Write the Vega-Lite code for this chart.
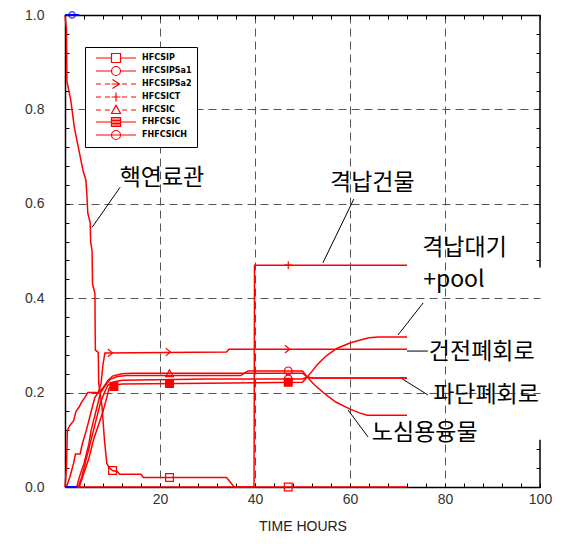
{
  "$schema": "https://vega.github.io/schema/vega-lite/v6.json",
  "width": 475,
  "height": 472,
  "autosize": {"type": "none"},
  "padding": {"left": 65, "top": 15, "right": 30, "bottom": 60},
  "background": "white",
  "config": {"view": {"stroke": null}},
  "datasets": {
    "lines": [
      {"series":"HFCSIP","x":0,"y":1.0},{"series":"HFCSIP","x":0.3,"y":0.97},{"series":"HFCSIP","x":0.4,"y":0.86},{"series":"HFCSIP","x":0.8,"y":0.84},{"series":"HFCSIP","x":1.2,"y":0.82},{"series":"HFCSIP","x":1.6,"y":0.79},{"series":"HFCSIP","x":2,"y":0.76},{"series":"HFCSIP","x":2.6,"y":0.73},{"series":"HFCSIP","x":3.2,"y":0.70},{"series":"HFCSIP","x":3.8,"y":0.67},{"series":"HFCSIP","x":4.4,"y":0.65},{"series":"HFCSIP","x":4.6,"y":0.62},{"series":"HFCSIP","x":4.8,"y":0.58},{"series":"HFCSIP","x":5.3,"y":0.56},{"series":"HFCSIP","x":5.4,"y":0.52},{"series":"HFCSIP","x":5.7,"y":0.50},{"series":"HFCSIP","x":5.8,"y":0.43},{"series":"HFCSIP","x":6.3,"y":0.41},{"series":"HFCSIP","x":6.35,"y":0.33},{"series":"HFCSIP","x":6.4,"y":0.29},{"series":"HFCSIP","x":7.0,"y":0.285},{"series":"HFCSIP","x":7.1,"y":0.22},{"series":"HFCSIP","x":7.8,"y":0.17},{"series":"HFCSIP","x":8.3,"y":0.10},{"series":"HFCSIP","x":8.8,"y":0.05},{"series":"HFCSIP","x":9.4,"y":0.04},{"series":"HFCSIP","x":10,"y":0.035},{"series":"HFCSIP","x":11,"y":0.033},{"series":"HFCSIP","x":11.5,"y":0.027},{"series":"HFCSIP","x":16,"y":0.027},{"series":"HFCSIP","x":16.5,"y":0.02},{"series":"HFCSIP","x":34,"y":0.02},{"series":"HFCSIP","x":35,"y":0.008},{"series":"HFCSIP","x":35.6,"y":0},{"series":"HFCSIP","x":72,"y":0},

      {"series":"HFCSIPSa2","x":0.3,"y":0},{"series":"HFCSIPSa2","x":1,"y":0.02},{"series":"HFCSIPSa2","x":1.8,"y":0.05},{"series":"HFCSIPSa2","x":2.2,"y":0.07},{"series":"HFCSIPSa2","x":3.2,"y":0.07},{"series":"HFCSIPSa2","x":3.6,"y":0.09},{"series":"HFCSIPSa2","x":4.5,"y":0.12},{"series":"HFCSIPSa2","x":5.5,"y":0.16},{"series":"HFCSIPSa2","x":6.3,"y":0.19},{"series":"HFCSIPSa2","x":7,"y":0.2},{"series":"HFCSIPSa2","x":7.6,"y":0.22},{"series":"HFCSIPSa2","x":8,"y":0.26},{"series":"HFCSIPSa2","x":8.4,"y":0.284},{"series":"HFCSIPSa2","x":34,"y":0.286},{"series":"HFCSIPSa2","x":34.5,"y":0.292},{"series":"HFCSIPSa2","x":72,"y":0.292},

      {"series":"HFCSIC","x":0,"y":0},{"series":"HFCSIC","x":0.3,"y":0.04},{"series":"HFCSIC","x":0.5,"y":0.12},{"series":"HFCSIC","x":1,"y":0.13},{"series":"HFCSIC","x":1.8,"y":0.14},{"series":"HFCSIC","x":2.3,"y":0.16},{"series":"HFCSIC","x":3,"y":0.17},{"series":"HFCSIC","x":3.5,"y":0.18},{"series":"HFCSIC","x":4.2,"y":0.19},{"series":"HFCSIC","x":4.8,"y":0.2},{"series":"HFCSIC","x":7,"y":0.2},{"series":"HFCSIC","x":8,"y":0.21},{"series":"HFCSIC","x":9,"y":0.225},{"series":"HFCSIC","x":10,"y":0.235},{"series":"HFCSIC","x":12,"y":0.24},{"series":"HFCSIC","x":14,"y":0.241},{"series":"HFCSIC","x":50,"y":0.241},{"series":"HFCSIC","x":51,"y":0.233},{"series":"HFCSIC","x":52,"y":0.231},{"series":"HFCSIC","x":72,"y":0.231},

      {"series":"HFCSIPSa1","x":0,"y":0},{"series":"HFCSIPSa1","x":2.5,"y":0},{"series":"HFCSIPSa1","x":3,"y":0.02},{"series":"HFCSIPSa1","x":4,"y":0.05},{"series":"HFCSIPSa1","x":5,"y":0.09},{"series":"HFCSIPSa1","x":5.5,"y":0.12},{"series":"HFCSIPSa1","x":6,"y":0.14},{"series":"HFCSIPSa1","x":6.5,"y":0.16},{"series":"HFCSIPSa1","x":7,"y":0.18},{"series":"HFCSIPSa1","x":7.5,"y":0.2},{"series":"HFCSIPSa1","x":8.5,"y":0.215},{"series":"HFCSIPSa1","x":9.5,"y":0.228},{"series":"HFCSIPSa1","x":11,"y":0.234},{"series":"HFCSIPSa1","x":13,"y":0.236},{"series":"HFCSIPSa1","x":37,"y":0.236},{"series":"HFCSIPSa1","x":38.5,"y":0.246},{"series":"HFCSIPSa1","x":50,"y":0.246},{"series":"HFCSIPSa1","x":51,"y":0.233},{"series":"HFCSIPSa1","x":52,"y":0.222},{"series":"HFCSIPSa1","x":53,"y":0.212},{"series":"HFCSIPSa1","x":55,"y":0.195},{"series":"HFCSIPSa1","x":57,"y":0.18},{"series":"HFCSIPSa1","x":60,"y":0.165},{"series":"HFCSIPSa1","x":62,"y":0.157},{"series":"HFCSIPSa1","x":63.6,"y":0.152},{"series":"HFCSIPSa1","x":72,"y":0.152},

      {"series":"FHFCSIC","x":0,"y":0},{"series":"FHFCSIC","x":3,"y":0},{"series":"FHFCSIC","x":4,"y":0.03},{"series":"FHFCSIC","x":5,"y":0.06},{"series":"FHFCSIC","x":6,"y":0.1},{"series":"FHFCSIC","x":7,"y":0.13},{"series":"FHFCSIC","x":8,"y":0.16},{"series":"FHFCSIC","x":8.8,"y":0.19},{"series":"FHFCSIC","x":9.3,"y":0.21},{"series":"FHFCSIC","x":10,"y":0.215},{"series":"FHFCSIC","x":12,"y":0.218},{"series":"FHFCSIC","x":30,"y":0.22},{"series":"FHFCSIC","x":50,"y":0.222},{"series":"FHFCSIC","x":51,"y":0.233},{"series":"FHFCSIC","x":52,"y":0.245},{"series":"FHFCSIC","x":53,"y":0.258},{"series":"FHFCSIC","x":55,"y":0.278},{"series":"FHFCSIC","x":57.3,"y":0.294},{"series":"FHFCSIC","x":60,"y":0.305},{"series":"FHFCSIC","x":62,"y":0.311},{"series":"FHFCSIC","x":64,"y":0.316},{"series":"FHFCSIC","x":66,"y":0.318},{"series":"FHFCSIC","x":72,"y":0.318},

      {"series":"FHFCSICH","x":0,"y":0},{"series":"FHFCSICH","x":2.8,"y":0},{"series":"FHFCSICH","x":3.5,"y":0.02},{"series":"FHFCSICH","x":4.5,"y":0.06},{"series":"FHFCSICH","x":5.5,"y":0.1},{"series":"FHFCSICH","x":6.5,"y":0.14},{"series":"FHFCSICH","x":7.5,"y":0.18},{"series":"FHFCSICH","x":8.3,"y":0.2},{"series":"FHFCSICH","x":9,"y":0.215},{"series":"FHFCSICH","x":10,"y":0.222},{"series":"FHFCSICH","x":12,"y":0.226},{"series":"FHFCSICH","x":30,"y":0.229},{"series":"FHFCSICH","x":50,"y":0.229},{"series":"FHFCSICH","x":51,"y":0.233},{"series":"FHFCSICH","x":52,"y":0.231},{"series":"FHFCSICH","x":72,"y":0.231},

      {"series":"HFCSICT","x":0,"y":0},{"series":"HFCSICT","x":39.8,"y":0},{"series":"HFCSICT","x":39.9,"y":0.47},{"series":"HFCSICT","x":72,"y":0.47}
    ],
    "markers": [
      {"series":"HFCSIP","x":10,"y":0.035},{"series":"HFCSIP","x":22,"y":0.02},{"series":"HFCSIP","x":47,"y":0},
      {"series":"HFCSIPSa2","x":9.5,"y":0.284},{"series":"HFCSIPSa2","x":21.7,"y":0.286},{"series":"HFCSIPSa2","x":46.8,"y":0.292},
      {"series":"HFCSIPSa1","x":47,"y":0.246},
      {"series":"HFCSIC","x":22,"y":0.241},
      {"series":"FHFCSIC","x":10.3,"y":0.213},{"series":"FHFCSIC","x":22,"y":0.219},{"series":"FHFCSIC","x":47,"y":0.222},
      {"series":"FHFCSICH","x":47,"y":0.229},
      {"series":"HFCSICT","x":47,"y":0.47}
    ],
    "blue": [
      {"part":"top","x":0,"y":1},{"part":"top","x":3,"y":1},
      {"part":"bottom","x":0,"y":0},{"part":"bottom","x":2.5,"y":0}
    ],
    "bluepts": [{"x":1.5,"y":1}],
    "frame": [
      {"part":"upper","y":0.465,"y2":1},
      {"part":"lower","y":0,"y2":0.1}
    ],
    "notes": [
      {"text":"핵연료관","x":11.5,"y":0.655},
      {"text":"격납건물","x":55.8,"y":0.644},
      {"text":"격납대기","x":75.2,"y":0.507},
      {"text":"+pool","x":75.4,"y":0.438},
      {"text":"건전폐회로","x":76.6,"y":0.286},
      {"text":"파단폐회로","x":77.5,"y":0.195},
      {"text":"노심용융물","x":64.6,"y":0.114}
    ],
    "leaders": [
      {"x":11.6,"y":0.635,"x2":5.7,"y2":0.55},
      {"x":60.8,"y":0.61,"x2":54.3,"y2":0.475},
      {"x":75.4,"y":0.39,"x2":70.1,"y2":0.322},
      {"x":72,"y":0.288,"x2":76.4,"y2":0.288},
      {"x":71,"y":0.229,"x2":76.4,"y2":0.195},
      {"x":59.6,"y":0.163,"x2":63.8,"y2":0.106}
    ]
  },
  "resolve": {"scale": {"shape": "independent", "fill": "independent"}, "axis": {"x": "independent", "y": "independent"}},
  "layer": [
    {
      "data": {"name": "lines"},
      "mark": {"type": "line", "color": "#ff0000", "strokeWidth": 1.5, "interpolate": "linear"},
      "encoding": {
        "x": {"field": "x", "type": "quantitative", "scale": {"domain": [0, 100], "nice": false},
          "axis": {"orient": "bottom", "values": [0,4,8,12,16,20,24,28,32,36,40,44,48,52,56,60,64,68,72,76,80,84,88,92,96,100],
            "labelExpr": "datum.value % 20 === 0 && datum.value > 0 ? datum.label : ''",
            "labelFlush": false, "labelOverlap": false,
            "title": "TIME HOURS", "grid": true, "gridDash": [8, 5], "gridColor": "#555", "gridWidth": 1,
            "gridOpacity": {"condition": {"test": "datum.value % 20 === 0 && datum.value > 0 && datum.value < 100", "value": 1}, "value": 0},
            "tickSize": -4, "tickColor": "#000", "domainColor": "#000", "domainWidth": 1.5,
            "labelFont": "Liberation Sans", "labelFontSize": 14, "labelColor": "#333", "labelPadding": 9,
            "titleFont": "Liberation Sans", "titleFontSize": 14, "titleFontWeight": "normal", "titleColor": "#222", "titlePadding": 13}},
        "y": {"field": "y", "type": "quantitative", "scale": {"domain": [0, 1], "nice": false},
          "axis": {"orient": "left", "values": [0,0.04,0.08,0.12,0.16,0.2,0.24,0.28,0.32,0.36,0.4,0.44,0.48,0.52,0.56,0.6,0.64,0.68,0.72,0.76,0.8,0.84,0.88,0.92,0.96,1],
            "labelExpr": "abs(datum.value*5 - round(datum.value*5)) < 1e-6 ? format(datum.value, '.1f') : ''",
            "labelOverlap": false, "labelFlush": false,
            "title": null, "grid": true, "gridDash": [8, 5], "gridColor": "#555", "gridWidth": 1,
            "gridOpacity": {"condition": {"test": "abs(datum.value*5 - round(datum.value*5)) < 1e-6 && datum.value > 0.01 && datum.value < 0.99", "value": 1}, "value": 0},
            "tickSize": -4, "tickColor": "#000", "domainColor": "#000", "domainWidth": 1.5,
            "labelFont": "Liberation Sans", "labelFontSize": 14, "labelColor": "#333", "labelPadding": 25}},
        "detail": {"field": "series", "type": "nominal"}
      }
    },
    {
      "data": {"name": "blue"},
      "mark": {"type": "line", "color": "#0000ff", "strokeWidth": 2},
      "encoding": {
        "x": {"field": "x", "type": "quantitative", "axis": null},
        "y": {"field": "y", "type": "quantitative", "axis": null},
        "detail": {"field": "part", "type": "nominal"}
      }
    },
    {
      "data": {"name": "bluepts"},
      "mark": {"type": "point", "shape": "circle", "filled": false, "color": "#0000ff", "size": 40, "strokeWidth": 1.5},
      "encoding": {
        "x": {"field": "x", "type": "quantitative", "axis": null},
        "y": {"field": "y", "type": "quantitative", "axis": null}
      }
    },
    {
      "data": {"name": "markers"},
      "mark": {"type": "point", "stroke": "#ff0000", "strokeWidth": 1.2, "size": 60, "opacity": 1},
      "encoding": {
        "x": {"field": "x", "type": "quantitative",
          "axis": {"orient": "top", "values": [0,4,8,12,16,20,24,28,32,36,40,44,48,52,56,60,64,68,72,76,80,84,88,92,96,100],
            "labels": false, "title": null, "grid": false, "tickSize": -4, "tickColor": "#000", "domainColor": "#000", "domainWidth": 1.5}},
        "y": {"field": "y", "type": "quantitative",
          "axis": {"orient": "right", "domain": false, "values": [0,0.04,0.08,0.12,0.16,0.2,0.24,0.28,0.32,0.36,0.4,0.44,0.48,0.52,0.56,0.6,0.64,0.68,0.72,0.76,0.8,0.84,0.88,0.92,0.96,1],
            "labels": false, "title": null, "grid": false, "tickSize": -4, "tickColor": "#000",
            "tickOpacity": {"condition": {"test": "datum.value > 0.09 && datum.value < 0.47", "value": 0}, "value": 1}}},
        "shape": {"field": "series", "type": "nominal",
          "scale": {"domain": ["HFCSIP","HFCSIPSa1","HFCSIPSa2","HFCSICT","HFCSIC","FHFCSIC","FHFCSICH"],
            "range": ["square","circle","M-0.6,-1L0.6,0L-0.6,1","M-1,0H1M0,-1V1","triangle-up","square","circle"]},
          "legend": null},
        "fill": {"field": "series", "type": "nominal",
          "scale": {"domain": ["HFCSIP","HFCSIPSa1","HFCSIPSa2","HFCSICT","HFCSIC","FHFCSIC","FHFCSICH"],
            "range": ["transparent","transparent","transparent","transparent","transparent","#ff0000","transparent"]},
          "legend": null}
      }
    },
    {
      "data": {"name": "frame"},
      "mark": {"type": "rule", "color": "#000", "strokeWidth": 1.5},
      "encoding": {
        "x": {"datum": 100, "type": "quantitative", "axis": null},
        "y": {"field": "y", "type": "quantitative", "axis": null},
        "y2": {"field": "y2"}
      }
    },
    {
      "data": {"name": "leaders"},
      "mark": {"type": "rule", "color": "#000", "strokeWidth": 1},
      "encoding": {
        "x": {"field": "x", "type": "quantitative", "axis": null},
        "y": {"field": "y", "type": "quantitative", "axis": null},
        "x2": {"field": "x2"},
        "y2": {"field": "y2"}
      }
    },
    {
      "data": {"name": "notes"},
      "mark": {"type": "text", "align": "left", "baseline": "middle", "font": "Noto Sans CJK KR", "fontSize": 23, "color": "#000"},
      "encoding": {
        "x": {"field": "x", "type": "quantitative", "axis": null},
        "y": {"field": "y", "type": "quantitative", "axis": null},
        "text": {"field": "text", "type": "nominal"}
      }
    },
    {
      "data": {"name": "markers"},
      "transform": [{"filter": "false"}],
      "mark": {"type": "point", "filled": false, "stroke": "#ff0000", "strokeWidth": 1.2},
      "encoding": {
        "x": {"field": "x", "type": "quantitative", "axis": null},
        "y": {"field": "y", "type": "quantitative", "axis": null},
        "shape": {"field": "series", "type": "nominal",
          "scale": {"domain": ["HFCSIP","HFCSIPSa1","HFCSIPSa2","HFCSICT","HFCSIC","FHFCSIC","FHFCSICH"],
            "range": [
              "M-4,0H-0.9M0.9,0H4M-0.9,-0.9H0.9V0.9H-0.9Z",
              "M-4,0H-0.9M0.9,0H4M-0.9,0A0.9,0.9,0,1,1,0.9,0A0.9,0.9,0,1,1,-0.9,0Z",
              "M-4,0H-3M-2.2,0H-1.2M1.2,0H2.2M3,0H4M-0.7,-0.9L0.7,0L-0.7,0.9M-0.9,0H0.7",
              "M-4,0H-3M-2.2,0H-1.2M1.2,0H2.2M3,0H4M-0.9,0H0.9M0,-0.9V0.9",
              "M-4,0H-3M-2.2,0H-1.2M1.2,0H2.2M3,0H4M0,-0.95L0.9,0.7H-0.9Z",
              "M-4,0H-0.9M0.9,0H4M-0.9,-0.9H0.9V0.9H-0.9ZM-0.9,-0.6H0.9M-0.9,-0.3H0.9M-0.9,0H0.9M-0.9,0.3H0.9M-0.9,0.6H0.9",
              "M-4,0H-0.9M0.9,0H4M-0.9,0A0.9,0.9,0,1,1,0.9,0A0.9,0.9,0,1,1,-0.9,0ZM-0.9,0H0.9"
            ]},
          "legend": {"orient": "none", "legendX": 20, "legendY": 32, "title": null,
            "strokeColor": "#000", "fillColor": "#fff", "padding": 5,
            "symbolSize": 100, "symbolStrokeColor": "#ff0000", "symbolStrokeWidth": 1.2, "symbolFillColor": "transparent", "symbolOpacity": 1,
            "symbolOffset": 20, "labelFont": "DejaVu Sans", "labelFontSize": 8, "labelFontWeight": "bold", "labelColor": "#000",
            "labelOffset": 20, "rowPadding": -2}}
      }
    }
  ]
}
